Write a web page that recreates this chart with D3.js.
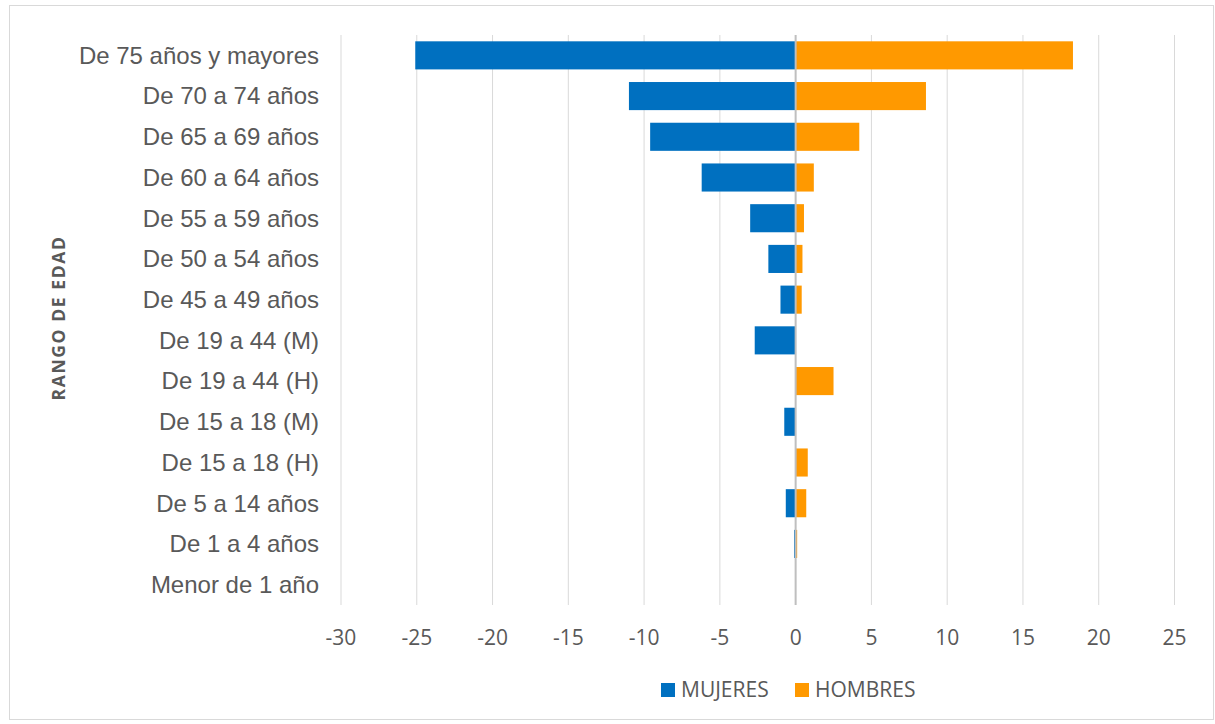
<!DOCTYPE html>
<html>
<head>
<meta charset="utf-8">
<style>
    body { margin: 0; background: #fff; }
</style>
</head>
<body>
<script src="https://cdn.jsdelivr.net/npm/d3@7"></script>
<script>
    var categories = ["De 75 años y mayores", "De 70 a 74 años", "De 65 a 69 años", "De 60 a 64 años",
        "De 55 a 59 años", "De 50 a 54 años", "De 45 a 49 años", "De 19 a 44 (M)", "De 19 a 44 (H)",
        "De 15 a 18 (M)", "De 15 a 18 (H)", "De 5 a 14 años", "De 1 a 4 años", "Menor de 1 año"];
    var mujeres = [-25.1, -11.0, -9.6, -6.2, -3.0, -1.8, -1.0, -2.7, 0, -0.75, 0, -0.65, -0.1, 0];
    var hombres = [18.3, 8.6, 4.2, 1.2, 0.55, 0.45, 0.4, 0, 2.5, 0, 0.8, 0.7, 0.1, 0];
    var xTicks = [-30, -25, -20, -15, -10, -5, 0, 5, 10, 15, 20, 25];
    var seriesNames = ["MUJERES", "HOMBRES"];
    var seriesColors = ["#0070c0", "#ff9900"];

    var width = 1215, height = 724;
    var svg = d3.select("body").append("svg")
        .attr("width", width).attr("height", height);

    // chart frame
    svg.append("rect")
        .attr("x", 9.5).attr("y", 5.5)
        .attr("width", 1204).attr("height", 714)
        .attr("fill", "#fff").attr("stroke", "#d9d9d9");

    var plotTop = 35, plotBottom = 605;
    var x = d3.scaleLinear().domain([-30, 25]).range([341, 1174.5]);
    var y = d3.scaleBand().domain(categories).range([plotTop, plotBottom]).paddingInner(0.31).paddingOuter(0.155);

    // gridlines
    svg.append("g").selectAll("line")
        .data(xTicks.filter(function (d) { return d !== 0; }))
        .enter().append("line")
        .attr("x1", function (d) { return x(d); }).attr("x2", function (d) { return x(d); })
        .attr("y1", plotTop).attr("y2", plotBottom)
        .attr("stroke", "#d9d9d9").attr("stroke-width", 1);

    // bars
    var rows = categories.map(function (c, i) { return { cat: c, m: mujeres[i], h: hombres[i] }; });
    svg.append("g").selectAll("rect")
        .data(rows).enter().append("rect")
        .attr("x", function (d) { return x(d.m); })
        .attr("y", function (d) { return y(d.cat); })
        .attr("width", function (d) { return x(0) - x(d.m); })
        .attr("height", y.bandwidth())
        .attr("fill", seriesColors[0]);
    svg.append("g").selectAll("rect")
        .data(rows).enter().append("rect")
        .attr("x", x(0))
        .attr("y", function (d) { return y(d.cat); })
        .attr("width", function (d) { return x(d.h) - x(0); })
        .attr("height", y.bandwidth())
        .attr("fill", seriesColors[1]);

    // zero axis line
    svg.append("line")
        .attr("x1", x(0)).attr("x2", x(0))
        .attr("y1", plotTop).attr("y2", plotBottom)
        .attr("stroke", "#bfbfbf").attr("stroke-width", 2);

    // category labels
    svg.append("g").selectAll("text")
        .data(categories).enter().append("text")
        .attr("x", 319)
        .attr("y", function (d) { return y(d) + y.bandwidth() / 2; })
        .attr("dy", "0.35em")
        .attr("text-anchor", "end")
        .attr("font-family", "'Liberation Sans', Arial, sans-serif")
        .attr("font-size", 24)
        .attr("fill", "#595959")
        .text(function (d) { return d; });

    // x tick labels
    svg.append("g").selectAll("text")
        .data(xTicks).enter().append("text")
        .attr("x", function (d) { return x(d); })
        .attr("y", 637.5)
        .attr("dy", "0.35em")
        .attr("text-anchor", "middle")
        .attr("font-family", "'Open Sans', sans-serif")
        .attr("font-size", 21)
        .attr("fill", "#595959")
        .text(function (d) { return d; });

    // y axis title
    svg.append("text")
        .attr("transform", "translate(65,318) rotate(-90)")
        .attr("text-anchor", "middle")
        .attr("font-family", "'Open Sans', sans-serif")
        .attr("font-weight", "bold")
        .attr("font-size", 17.5)
        .attr("letter-spacing", 1.6)
        .attr("fill", "#595959")
        .text("RANGO DE EDAD");

    // legend
    var legendX = [661, 795];
    var legend = svg.append("g").selectAll("g")
        .data(seriesNames).enter().append("g")
        .attr("transform", function (d, i) { return "translate(" + legendX[i] + ",683)"; });
    legend.append("rect")
        .attr("width", 14).attr("height", 14)
        .attr("fill", function (d, i) { return seriesColors[i]; });
    legend.append("text")
        .attr("x", 20).attr("y", 7)
        .attr("dy", "0.35em")
        .attr("font-family", "'Open Sans', sans-serif")
        .attr("font-size", 21)
        .attr("fill", "#595959")
        .text(function (d) { return d; });
</script>
</body>
</html>
